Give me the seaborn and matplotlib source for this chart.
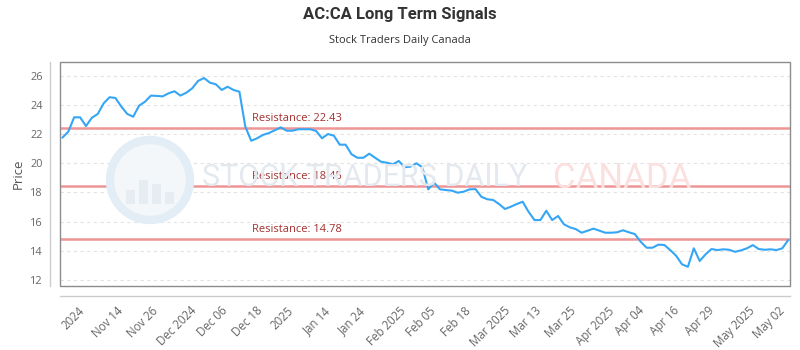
import numpy as np
import pandas as pd
import matplotlib
matplotlib.use("Agg")
import matplotlib.pyplot as plt
from matplotlib.patches import Rectangle, Circle
from matplotlib.transforms import IdentityTransform
import seaborn as sns

# Daily closing prices, AC:CA
prices = [
    21.76, 22.17, 23.16, 23.16, 22.56, 23.13, 23.39, 24.12, 24.54, 24.49,
    23.89, 23.39, 23.20, 23.96, 24.23, 24.65, 24.63, 24.60, 24.81, 24.95,
    24.65, 24.85,
    25.15, 25.66, 25.86, 25.54, 25.43, 25.04, 25.26, 25.04, 24.92, 22.52,
    21.55, 21.72, 21.95, 22.08, 22.27, 22.47, 22.24, 22.24, 22.34, 22.34,
    22.34,
    22.22, 21.72, 22.01, 21.90, 21.28, 21.28, 20.62, 20.38, 20.38, 20.66,
    20.38, 20.11, 20.04, 19.93, 20.16, 19.73, 19.77, 20.00, 19.73, 18.21,
    18.67, 18.21, 18.16, 18.12, 17.98, 18.05, 18.21, 18.23, 17.70, 17.53,
    17.48, 17.20, 16.86, 17.02, 17.20, 17.36, 16.67, 16.10, 16.10,
    16.74, 16.10, 16.38, 15.81, 15.60, 15.48, 15.23, 15.37, 15.51, 15.37,
    15.23, 15.23, 15.26, 15.40, 15.26, 15.14, 14.61, 14.20, 14.20, 14.41,
    14.39,
    14.04, 13.65, 13.06, 12.89, 14.16, 13.29, 13.75, 14.11, 14.04, 14.09,
    14.06, 13.92, 14.02, 14.16, 14.38, 14.11, 14.06, 14.09, 14.04, 14.16,
    14.73,
]

date_labels = [
    "2024", "Nov 14", "Nov 26", "Dec 2024", "Dec 06", "Dec 18", "2025",
    "Jan 14", "Jan 24", "Feb 2025", "Feb 05", "Feb 18", "Mar 2025", "Mar 13",
    "Mar 25", "Apr 2025", "Apr 04", "Apr 16", "Apr 29", "May 2025", "May 02",
]

resistance_levels = [22.43, 18.45, 14.78]
y_ticks = [12, 14, 16, 18, 20, 22, 24, 26]

df = pd.DataFrame({"day": np.arange(len(prices)), "price": prices})

sns.set_style("white")
plt.rcParams["font.family"] = ["Open Sans", "DejaVu Sans"]

fig = plt.figure(figsize=(8, 3.5), dpi=100)
ax = fig.add_axes([60 / 800, 1 - 286 / 350, 730 / 800, 224 / 350])
ax.patch.set_alpha(0)

# faint watermark: logo and brand text
logo_c = (150, 350 - 180)
fig.patches.append(Circle(logo_c, 40, transform=IdentityTransform(),
                          facecolor="#f3f7fa", edgecolor="#e2edf5", lw=6, zorder=0))
for bx, bh in [(-20, 14), (-7, 24), (6, 20), (19, 12)]:
    fig.patches.append(Rectangle((logo_c[0] + bx - 4.5, logo_c[1] - 24), 9, bh,
                                 transform=IdentityTransform(),
                                 facecolor="#e5edf3", edgecolor="none", zorder=0))
fig.text(365 / 800, 1 - 178 / 350, "STOCK TRADERS DAILY", ha="center", va="center",
         fontsize=22, color="#e3e9ee", family=["Roboto", "DejaVu Sans"], zorder=0)
fig.text(622 / 800, 1 - 178 / 350, "CANADA", ha="center", va="center",
         fontsize=25, color="#fbe0e0", family=["Roboto", "DejaVu Sans"], zorder=0)

# dashed horizontal grid
for yv in y_ticks:
    ax.axhline(yv, color="#e3e3e3", lw=0.8, dashes=(3, 3), zorder=1)

# resistance levels
for lvl in resistance_levels:
    ax.axhline(lvl, color="#ef9595", lw=1.8, zorder=2)
    ax.annotate(f"Resistance: {lvl:.2f}", xy=(32.2, lvl), xytext=(0, 3),
                textcoords="offset points", ha="left", va="bottom",
                fontsize=8, color="#a3302f", zorder=3)

sns.lineplot(data=df, x="day", y="price", ax=ax, color="#35a6f5", lw=1.5, zorder=4)

ax.set_xlim(-0.4, 123.3)
ax.set_ylim(11.57, 26.96)

ax.set_yticks(y_ticks)
ax.set_yticklabels([str(v) for v in y_ticks])
ax.set_xticks(np.linspace(1.8, 119.8, len(date_labels)))
ax.set_xticklabels(date_labels)
ax.tick_params(axis="both", length=0, labelsize=7.8, labelcolor="#666666")
ax.tick_params(axis="x", labelsize=8.3)
ax.tick_params(axis="y", pad=5)
ax.tick_params(axis="x", pad=6, labelrotation=45)
plt.setp(ax.get_xticklabels(), ha="right", rotation_mode="anchor")
ax.set_xlabel("")
ax.set_ylabel("Price", fontsize=9.5, color="#555555", labelpad=4)

for side in ["top", "right"]:
    ax.spines[side].set_visible(False)
for side in ["left", "bottom"]:
    ax.spines[side].set_position(("outward", 7.2))
    ax.spines[side].set_color("#cccccc")
    ax.spines[side].set_linewidth(1)

ax.add_patch(Rectangle((0, 0), 1, 1, transform=ax.transAxes, fill=False,
                       edgecolor="#8c8c8c", lw=1, clip_on=False, zorder=5))

fig.text(0.5, 1 - 15 / 350, "AC:CA Long Term Signals", ha="center", va="center",
         fontsize=12, fontweight="bold", color="#333333",
         family=["Roboto", "DejaVu Sans"])
fig.text(0.5, 1 - 40 / 350, "Stock Traders Daily Canada", ha="center", va="center",
         fontsize=8, color="#333333")

fig.savefig("out.png", dpi=100)
